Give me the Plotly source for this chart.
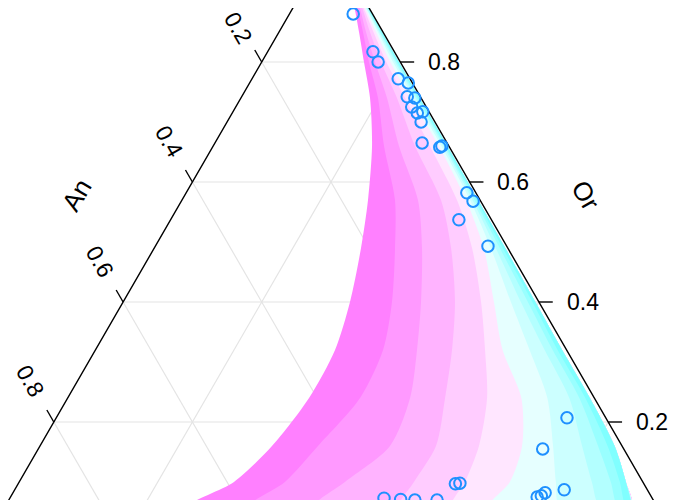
import numpy as np
import plotly.graph_objects as go

# ---------------- data (ternary compositions: Or top, An bottom-left, Ab bottom-right)
# contour band boundaries: An value of each boundary at the given Or levels
or_levels = [1.0, 0.90, 0.85, 0.80, 0.74, 0.66, 0.57, 0.49, 0.40, 0.32, 0.24, 0.16, 0.10, 0.06]
an_b0 = [0, .0183, .0346, .0524, .0737, .1108, .1616, .2117, .2726, .3342, .4117, .5052, .5900, .6735]
an_b1 = [0, .0140, .0289, .0452, .0622, .0935, .1227, .1626, .2120, .2649, .3381, .4388, .5165, .5869]
an_b2 = [0, .0111, .0245, .0365, .0492, .0719, .0895, .1237, .1701, .2159, .2659, .3349, .4299, .4931]
an_b3 = [0, .0082, .0188, .0279, .0348, .0488, .0563, .0818, .1211, .1654, .2154, .2685, .3303, .3704]
an_b4 = [0, .0068, .0137, .0202, .0231, .0274, .0332, .0515, .0835, .1177, .1548, .2065, .2567, .2954]
an_b5 = [0, .0053, .0101, .0144, .0152, .0144, .0202, .0346, .0649, .0924, .1053, .1443, .1919, .2410]
an_b6 = [0, .0039, .0072, .0105, .0108, .0108, .0144, .0245, .0404, .0534, .0678, .0996, .1255, .1400]
an_b7 = [0, .0029, .0053, .0076, .0079, .0079, .0108, .0173, .0260, .0317, .0361, .0577, .0736, .0823]
an_b8 = [0, .0020, .0039, .0055, .0058, .0058, .0079, .0115, .0159, .0202, .0216, .0346, .0462, .0563]
an_b9 = [0, .0013, .0026, .0038, .0039, .0040, .0051, .0072, .0094, .0130, .0130, .0209, .0332, .0447]
an_b10 = [0, .0006, .0014, .0022, .0022, .0022, .0029, .0036, .0051, .0065, .0065, .0108, .0245, .0375]
band_colors = ["#FF80FF", "#FF99FF", "#FFB3FF", "#FFCCFF", "#FFE6FF",
               "#E6FFFF", "#CCFFFF", "#B3FFFF", "#99FFFF", "#80FFFF"]

# sample points
pt_or = [.880, .817, .800, .772, .765, .742, .740, .725, .715, .717, .700, .665, .658, .660, .582,
         .568, .537, .493, .207, .155, .087, .082, .075, .077, .098, .097, .073, .071, .070, .070]
pt_ab = [.092, .152, .168, .211, .229, .239, .251, .254, .267, .274, .280, .299, .328, .330, .405,
         .421, .416, .480, .737, .728, .793, .768, .760, .765, .637, .631, .540, .565, .586, .618]
pt_an = [round(1 - o - a, 3) for o, a in zip(pt_or, pt_ab)]

tick_vals = [0.2, 0.4, 0.6, 0.8]
tick_text = ["0.2", "0.4", "0.6", "0.8"]

# ---------------- helpers
H = np.sqrt(3) / 2


def txy(or_, an):
    or_ = np.asarray(or_, dtype=float)
    an = np.asarray(an, dtype=float)
    ab = 1 - or_ - an
    return ab + or_ / 2, or_ * H


fig = go.Figure()

# grid
gx, gy = [], []
for v in tick_vals:
    for (o1, a1), (o2, a2) in [((v, 1 - v), (v, 0)),          # Or constant
                               ((1 - v, v), (0, v)),          # An constant
                               ((1 - v, 0), (0, 1 - v))]:     # Ab constant
        x, y = txy([o1, o2], [a1, a2])
        gx += list(x) + [None]
        gy += list(y) + [None]
fig.add_trace(go.Scatter(x=gx, y=gy, mode="lines", line=dict(color="#E4E4E4", width=1.2),
                         hoverinfo="skip"))

# contour bands
bounds = [an_b0, an_b1, an_b2, an_b3, an_b4, an_b5, an_b6, an_b7, an_b8, an_b9, an_b10]
ox, oy = txy(or_levels, an_b10)
for k, col in enumerate(band_colors):
    bx, by = txy(or_levels, bounds[k])
    fig.add_trace(go.Scatter(x=list(bx) + list(ox[::-1]), y=list(by) + list(oy[::-1]),
                             mode="lines", fill="toself", fillcolor=col,
                             line=dict(width=0, color=col, shape="spline", smoothing=0.8),
                             hoverinfo="skip"))

# triangle edges
ex, ey = txy([0, 1, 0, 0], [1, 0, 0, 1])
fig.add_trace(go.Scatter(x=ex, y=ey, mode="lines", line=dict(color="black", width=1.4),
                         hoverinfo="skip"))

# ticks
d = 0.02
tx, ty = [], []
for v in tick_vals:
    x, y = txy([1 - v, 1 - v + d], [v, v])      # An ticks (left edge)
    tx += list(x) + [None]; ty += list(y) + [None]
    x, y = txy([v, v], [0, -d])                 # Or ticks (right edge)
    tx += list(x) + [None]; ty += list(y) + [None]
fig.add_trace(go.Scatter(x=tx, y=ty, mode="lines", line=dict(color="black", width=1.4),
                         hoverinfo="skip"))

# points
px, py = txy(pt_or, pt_an)
fig.add_trace(go.Scatter(x=px, y=py, mode="markers",
                         marker=dict(symbol="circle-open", size=11.5, color="#1E90FF",
                                     line=dict(width=2, color="#1E90FF")),
                         hoverinfo="skip"))

font = dict(family="Liberation Sans, Arial, sans-serif", size=23, color="black")
ann = []
for i, (v, t) in enumerate(zip(tick_vals, tick_text)):
    x, y = txy(1 - v + 0.068, v)
    ann.append(dict(x=float(x), y=float(y), text=t, textangle=60, showarrow=False, font=font,
                    yshift=-7 if i == 0 else 0))
    x, y = txy(v, -0.063)
    ann.append(dict(x=float(x), y=float(y), text=t, showarrow=False, font=font))
tfont = dict(font, size=26)
ann.append(dict(x=0.25 - 0.135 * H, y=0.5 * H + 0.135 * 0.5, text="An", textangle=-60,
                showarrow=False, font=tfont))
ann.append(dict(x=0.75 + 0.135 * H, y=0.5 * H + 0.135 * 0.5, text="Or", textangle=60,
                showarrow=False, font=tfont))

# axis ranges chosen so the (page-margin shifted) view matches the cropped reference
fig.update_layout(
    width=680, height=500, margin=dict(l=0, r=0, t=0, b=0),
    paper_bgcolor="white", plot_bgcolor="white", showlegend=False,
    xaxis=dict(range=[0.03391, 1.01515], visible=False, fixedrange=True),
    yaxis=dict(range=[0.049075, 0.77076], visible=False, fixedrange=True),
    annotations=ann,
)
fig.write_html("out.html")
